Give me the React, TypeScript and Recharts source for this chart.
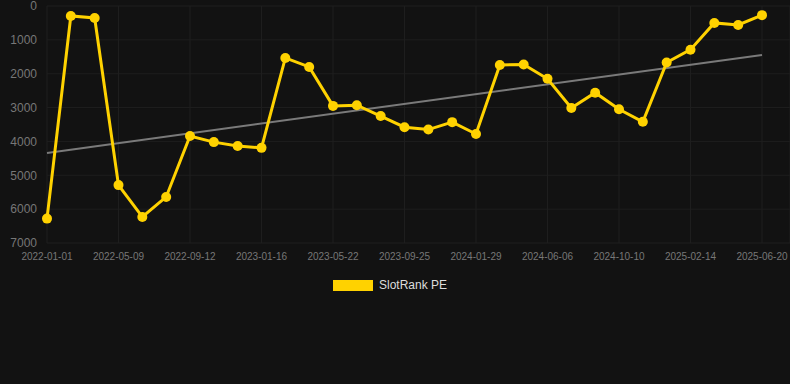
import React from 'react';
import { LineChart, Line, XAxis, YAxis, CartesianGrid } from 'recharts';

const DATES = [
  '2022-01-01', '2022-02-12', '2022-03-26', '2022-05-09', '2022-06-20', '2022-08-01',
  '2022-09-12', '2022-10-24', '2022-12-05', '2023-01-16', '2023-02-27', '2023-04-10',
  '2023-05-22', '2023-07-03', '2023-08-14', '2023-09-25', '2023-11-06', '2023-12-18',
  '2024-01-29', '2024-03-11', '2024-04-22', '2024-06-06', '2024-07-18', '2024-08-29',
  '2024-10-10', '2024-11-21', '2025-01-02', '2025-02-14', '2025-03-28', '2025-05-09',
  '2025-06-20',
];

const RANK = [
  6280, 295, 354, 5290, 6230, 5640, 3840, 4020, 4135, 4190, 1535, 1800,
  2950, 2930, 3250, 3580, 3650, 3430, 3780, 1740, 1730, 2150, 3010, 2560,
  3050, 3420, 1670, 1290, 500, 560, 270,
];

// trend line endpoints only, joined across the gap
const TREND_START = 4340;
const TREND_END = 1447;

const Y_TICKS = [0, 1000, 2000, 3000, 4000, 5000, 6000, 7000];

const YELLOW = '#FFD200';
const BG = '#121212';
const FONT = '"Liberation Sans", Arial, sans-serif';

const chartData = DATES.map((date, i) => ({
  date,
  rank: RANK[i],
  trend: i === 0 ? TREND_START : i === DATES.length - 1 ? TREND_END : null,
}));

export default function App() {
  return (
    <div style={{ position: 'absolute', left: 0, top: 0, width: 790, height: 384, background: BG }}>
      <LineChart width={790} height={384} data={chartData} margin={{ top: 6, right: 0, bottom: 111, left: 0 }}>
        <CartesianGrid stroke="#1e1e1e" strokeWidth={1} />
        <XAxis
          dataKey="date"
          interval={2}
          padding={{ left: 0, right: 28 }}
          tickLine={false}
          axisLine={false}
          tickSize={0}
          tickMargin={10}
          height={30}
          tick={{ fill: '#777777', fontSize: 10, fontFamily: FONT }}
        />
        <YAxis
          reversed
          domain={[0, 7000]}
          ticks={Y_TICKS}
          interval={0}
          width={47}
          tickLine={false}
          axisLine={false}
          tickSize={0}
          tickMargin={10}
          tick={{ fill: '#777777', fontSize: 12, fontFamily: FONT }}
        />
        <Line
          dataKey="trend"
          stroke="#7a7a7a"
          strokeWidth={2}
          dot={false}
          connectNulls
          isAnimationActive={false}
          legendType="none"
        />
        <Line
          dataKey="rank"
          stroke={YELLOW}
          strokeWidth={3}
          dot={{ r: 5, fill: YELLOW, stroke: YELLOW, strokeWidth: 0 }}
          activeDot={false}
          isAnimationActive={false}
        />
      </LineChart>
      <div
        style={{
          position: 'absolute',
          top: 278,
          left: 0,
          width: 780,
          display: 'flex',
          justifyContent: 'center',
          alignItems: 'center',
          fontFamily: FONT,
          fontSize: 12,
          color: '#dddddd',
        }}
      >
        <span style={{ display: 'inline-block', width: 40, height: 11, background: YELLOW, marginRight: 6 }} />
        <span>SlotRank PE</span>
      </div>
    </div>
  );
}
